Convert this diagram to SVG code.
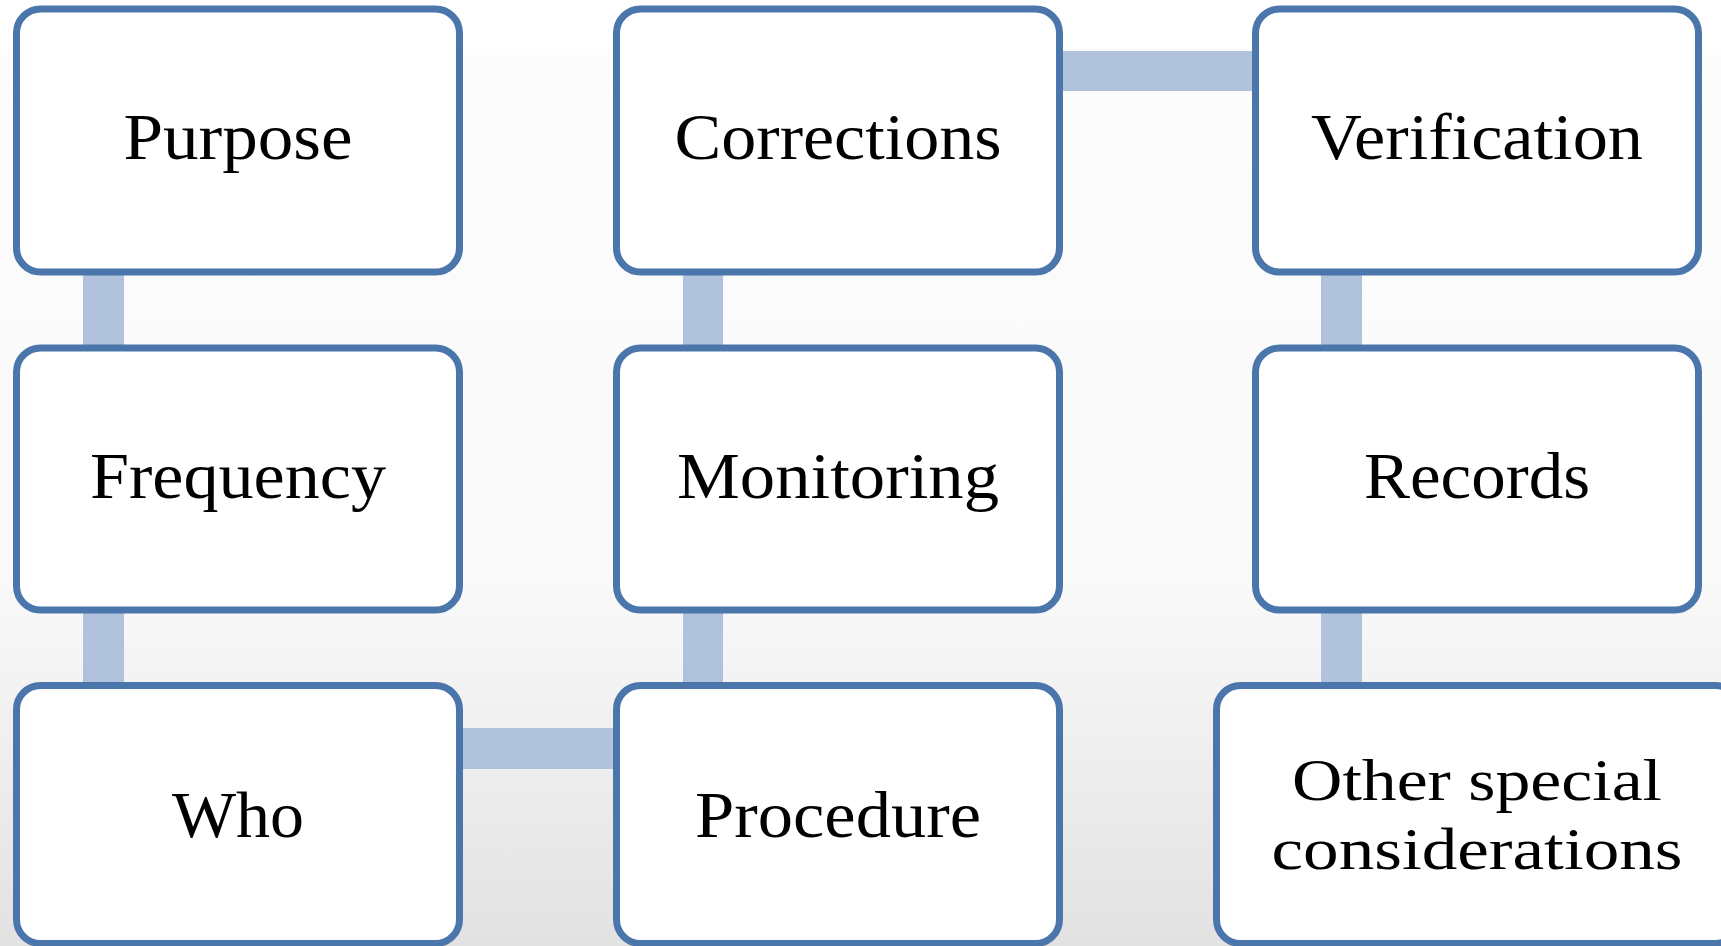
<svg xmlns="http://www.w3.org/2000/svg" width="1721" height="946" viewBox="0 0 1721 946">
<defs>
<linearGradient id="bg" x1="0" y1="0" x2="0" y2="1">
<stop offset="0" stop-color="#fdfdfd"/>
<stop offset="0.62" stop-color="#f9f9f9"/>
<stop offset="1" stop-color="#e2e2e2"/>
</linearGradient>
<style>
.box{fill:#ffffff;stroke:#4a76ac;stroke-width:7}
.conn{fill:#b1c2dc}
.lbl{font-family:"Liberation Serif","Times New Roman",serif;font-size:65px;fill:#000000;text-anchor:middle}
.lbl2{font-size:60px}
</style>
</defs>
<rect x="0" y="0" width="1721" height="946" fill="url(#bg)"/>
<rect x="0" y="0" width="1721" height="49" fill="#ffffff"/>
<g id="connectors">
<rect class="conn" x="83" y="270" width="41" height="80"/>
<rect class="conn" x="83" y="610" width="41" height="80"/>
<rect class="conn" x="683" y="270" width="40" height="80"/>
<rect class="conn" x="683" y="610" width="40" height="80"/>
<rect class="conn" x="1321" y="270" width="41" height="80"/>
<rect class="conn" x="1321" y="610" width="41" height="80"/>
<rect class="conn" x="1055" y="51" width="205" height="40"/>
<rect class="conn" x="455" y="728" width="165" height="41"/>
</g>
<g id="purpose">
<rect class="box" x="16.5" y="9" width="443" height="263" rx="24"/>
<text class="lbl" x="238" y="159" textLength="229" lengthAdjust="spacingAndGlyphs">Purpose</text>
</g>
<g id="corrections">
<rect class="box" x="616.5" y="9" width="443" height="263" rx="24"/>
<text class="lbl" x="838" y="159" textLength="327" lengthAdjust="spacingAndGlyphs">Corrections</text>
</g>
<g id="verification">
<rect class="box" x="1255.5" y="9" width="443" height="263" rx="24"/>
<text class="lbl" x="1477" y="159" textLength="332" lengthAdjust="spacingAndGlyphs">Verification</text>
</g>
<g id="frequency">
<rect class="box" x="16.5" y="348" width="443" height="262" rx="24"/>
<text class="lbl" x="238" y="498" textLength="296" lengthAdjust="spacingAndGlyphs">Frequency</text>
</g>
<g id="monitoring">
<rect class="box" x="616.5" y="348" width="443" height="262" rx="24"/>
<text class="lbl" x="838" y="498" textLength="322" lengthAdjust="spacingAndGlyphs">Monitoring</text>
</g>
<g id="records">
<rect class="box" x="1255.5" y="348" width="443" height="262" rx="24"/>
<text class="lbl" x="1477" y="498" textLength="226" lengthAdjust="spacingAndGlyphs">Records</text>
</g>
<g id="who">
<rect class="box" x="16.5" y="685.5" width="443" height="258" rx="24"/>
<text class="lbl" x="238" y="837" textLength="132" lengthAdjust="spacingAndGlyphs">Who</text>
</g>
<g id="procedure">
<rect class="box" x="616.5" y="685.5" width="443" height="258" rx="24"/>
<text class="lbl" x="838" y="837" textLength="286" lengthAdjust="spacingAndGlyphs">Procedure</text>
</g>
<g id="other">
<rect class="box" x="1216.5" y="685.5" width="523" height="258" rx="24"/>
<text class="lbl lbl2" x="1477" y="800" textLength="370" lengthAdjust="spacingAndGlyphs">Other special</text>
<text class="lbl lbl2" x="1477" y="869" textLength="411" lengthAdjust="spacingAndGlyphs">considerations</text>
</g>
</svg>
